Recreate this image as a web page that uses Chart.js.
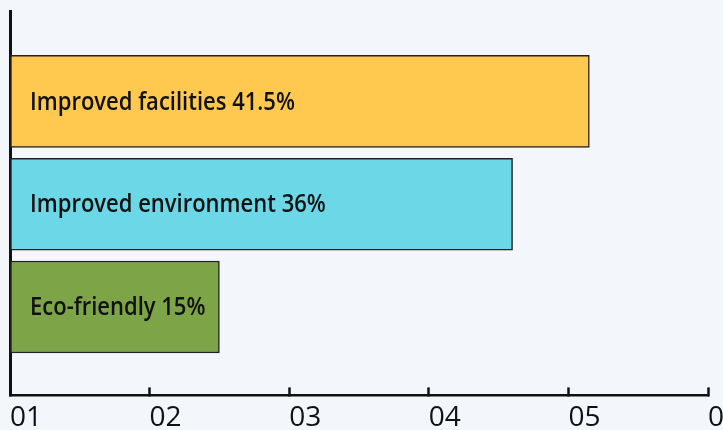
<!DOCTYPE html>
<html>
<head>
<meta charset="utf-8">
<script src="https://cdn.jsdelivr.net/npm/chart.js@4/dist/chart.umd.min.js"></script>
<style>
  html, body { margin: 0; padding: 0; background: #f3f6fa; overflow: hidden; }
  #wrap { width: 723px; height: 430px; position: relative; overflow: hidden; }
  canvas { position: absolute; left: 0; top: 0; }
</style>
</head>
<body>
<div id="wrap"><canvas id="c" width="760" height="449"></canvas></div>
<script>
const categories = ["Improved facilities", "Improved environment", "Eco-friendly"];
const values = [41.5, 36, 15];
const valueLabels = ["41.5%", "36%", "15%"];
const tickLabels = ["01", "02", "03", "04", "05", "06"];
const barColors = ["#ffc84f", "#6cd8e7", "#7da547"];

const barLabelPlugin = {
  id: 'barLabels',
  afterDatasetsDraw(chart) {
    const ctx = chart.ctx;
    const meta = chart.getDatasetMeta(0);
    const left = chart.chartArea.left;
    meta.data.forEach((bar, i) => {
      ctx.save();
      ctx.font = '600 25px "Open Sans"';
      ctx.fillStyle = '#111111';
      ctx.textBaseline = 'middle';
      ctx.textAlign = 'left';
      ctx.translate(left + 20, bar.y + 1);
      ctx.scale(0.88, 1);
      ctx.fillText(categories[i] + ' ' + valueLabels[i], 0, 0);
      ctx.restore();
    });
  }
};

new Chart(document.getElementById('c'), {
  type: 'bar',
  data: {
    datasets: [{
      data: values.map((v, i) => ({ x: v, y: i })),
      backgroundColor: barColors,
      borderColor: '#222222',
      borderWidth: 1.5,
      borderSkipped: false,
      barThickness: 92
    }]
  },
  options: {
    indexAxis: 'y',
    responsive: false,
    animation: false,
    events: [],
    layout: { autoPadding: false, padding: { left: 10, right: 52, top: 11, bottom: 0 } },
    plugins: { legend: { display: false }, tooltip: { enabled: false } },
    scales: {
      x: {
        type: 'linear',
        min: 0,
        max: 50,
        afterFit: (scale) => { scale.paddingLeft = 0; },
        ticks: {
          stepSize: 10,
          align: 'start',
          padding: 14,
          color: '#111111',
          font: { family: '"Open Sans"', size: 28 },
          callback: (v, i) => tickLabels[i]
        },
        grid: {
          display: true,
          drawOnChartArea: false,
          drawTicks: true,
          tickLength: -8,
          tickWidth: 2.5,
          tickColor: '#111111'
        },
        border: { display: true, color: '#111111', width: 2.5 }
      },
      y: {
        type: 'linear',
        reverse: true,
        offset: false,
        bounds: 'data',
        min: -0.88,
        max: 2.86,
        ticks: { display: false },
        grid: { display: false, drawTicks: false, offset: false },
        border: { display: true, color: '#111111', width: 3 }
      }
    }
  },
  plugins: [barLabelPlugin]
});
</script>
</body>
</html>
